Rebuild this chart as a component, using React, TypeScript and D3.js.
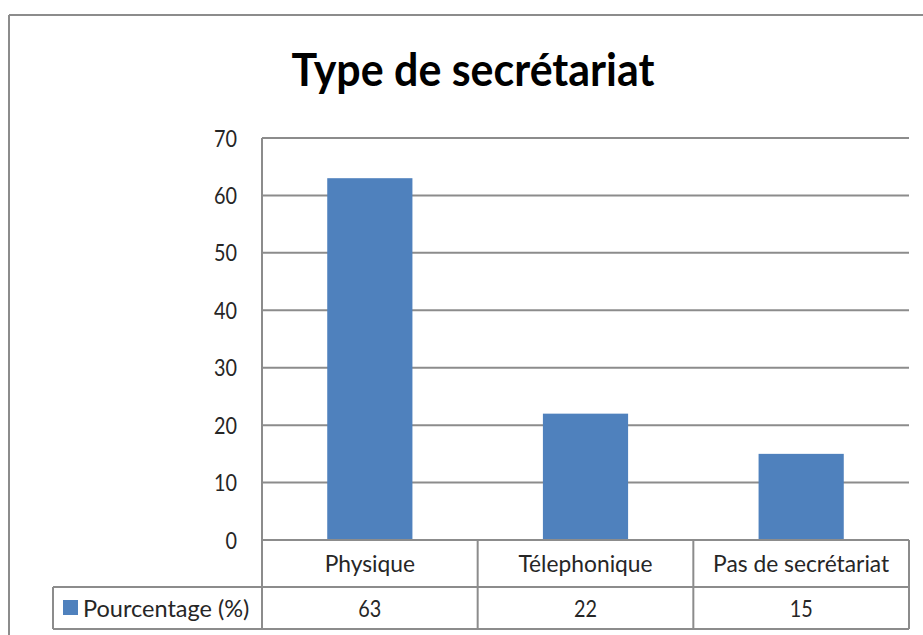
import React from "react";
import * as d3 from "d3";

const title = "Type de secrétariat";
const categories = ["Physique", "Télephonique", "Pas de secrétariat"];
const values = [63, 22, 15];
const seriesName = "Pourcentage (%)";
const yTicks = [0, 10, 20, 30, 40, 50, 60, 70];

const W = 923;
const H = 635;
const plotLeft = 262;
const plotRight = 909;
const plotTop = 138;
const plotBottom = 540;
const row1Bottom = 587;
const row2Bottom = 629;
const legendLeft = 53;
const barColor = "#4F81BD";
const gridColor = "#8C8C8C";
const textColor = "#262626";
const font = "Lato, 'Open Sans', sans-serif";
const digitW = 11.5;
const charScale = 0.88;

// approximate narrow-font widths via a horizontal squeeze
function Label(props: {
  x: number;
  y: number;
  anchor: "start" | "middle" | "end";
  size: number;
  text: string;
  sx?: number;
  weight?: string;
}) {
  const sx = props.sx ?? charScale;
  return (
    <text
      transform={`translate(${props.x},${props.y}) scale(${sx},1)`}
      textAnchor={props.anchor}
      fontFamily={font}
      fontSize={props.size}
      fontWeight={props.weight}
      fill={textColor}
    >
      {props.text}
    </text>
  );
}

export default function App() {
  const x = d3
    .scaleBand<string>()
    .domain(categories)
    .range([plotLeft, plotRight])
    .paddingInner(0.605)
    .paddingOuter(0.3025);
  const y = d3.scaleLinear().domain([0, 70]).range([plotBottom, plotTop]);
  const step = x.step();
  const colEdges = categories.map((c) => x(c)! - (step - x.bandwidth()) / 2);

  return (
    <svg
      width={W}
      height={H}
      style={{ position: "absolute", left: 0, top: 0, background: "#fff" }}
    >
      {/* outer frame */}
      <line x1={9} x2={W} y1={15} y2={15} stroke={gridColor} strokeWidth={2} />
      <line x1={9} x2={9} y1={15} y2={H} stroke={gridColor} strokeWidth={2} />

      {/* title */}
      <text
        x={473}
        y={86}
        textAnchor="middle"
        fontFamily={font}
        fontWeight="bold"
        fontSize={46}
        fill="#000"
        textLength={363}
        lengthAdjust="spacingAndGlyphs"
      >
        {title}
      </text>

      {/* gridlines and y tick labels */}
      {yTicks.map((t) => (
        <g key={t}>
          {t > 0 && (
            <line
              x1={plotLeft}
              x2={plotRight}
              y1={y(t)}
              y2={y(t)}
              stroke={gridColor}
              strokeWidth={2}
            />
          )}
          <text
            x={237}
            y={y(t) + 8.5}
            textAnchor="end"
            fontFamily={font}
            fontSize={24}
            fill={textColor}
            textLength={String(t).length * digitW}
            lengthAdjust="spacingAndGlyphs"
          >
            {t}
          </text>
        </g>
      ))}

      {/* bars */}
      {categories.map((c, i) => (
        <rect
          key={c}
          x={x(c)}
          y={y(values[i])}
          width={x.bandwidth()}
          height={y(0) - y(values[i])}
          fill={barColor}
        />
      ))}

      {/* data table lines */}
      <line x1={plotLeft} x2={plotRight} y1={plotBottom} y2={plotBottom} stroke={gridColor} strokeWidth={2} />
      <line x1={legendLeft} x2={plotRight} y1={row1Bottom} y2={row1Bottom} stroke={gridColor} strokeWidth={2} />
      <line x1={legendLeft} x2={plotRight} y1={row2Bottom} y2={row2Bottom} stroke={gridColor} strokeWidth={2} />
      <line x1={legendLeft} x2={legendLeft} y1={row1Bottom} y2={row2Bottom} stroke={gridColor} strokeWidth={2} />
      <line x1={plotLeft} x2={plotLeft} y1={plotTop} y2={row2Bottom} stroke={gridColor} strokeWidth={2} />
      {colEdges.slice(1).map((cx, i) => (
        <line key={i} x1={cx} x2={cx} y1={plotBottom} y2={row2Bottom} stroke={gridColor} strokeWidth={2} />
      ))}
      <line x1={plotRight} x2={plotRight} y1={plotBottom} y2={row2Bottom} stroke={gridColor} strokeWidth={2} />

      {/* category labels */}
      {categories.map((c) => (
        <Label key={c} x={x(c)! + x.bandwidth() / 2} y={572} anchor="middle" size={24} text={c} sx={0.95} />
      ))}

      {/* values row */}
      {categories.map((c, i) => (
        <text
          key={c}
          x={x(c)! + x.bandwidth() / 2}
          y={617}
          textAnchor="middle"
          fontFamily={font}
          fontSize={24}
          fill={textColor}
          textLength={String(values[i]).length * digitW}
          lengthAdjust="spacingAndGlyphs"
        >
          {values[i]}
        </text>
      ))}

      {/* legend key */}
      <rect x={63} y={600} width={15} height={15} fill={barColor} />
      <Label x={83} y={617} anchor="start" size={24} text={seriesName} sx={0.98} />
    </svg>
  );
}
